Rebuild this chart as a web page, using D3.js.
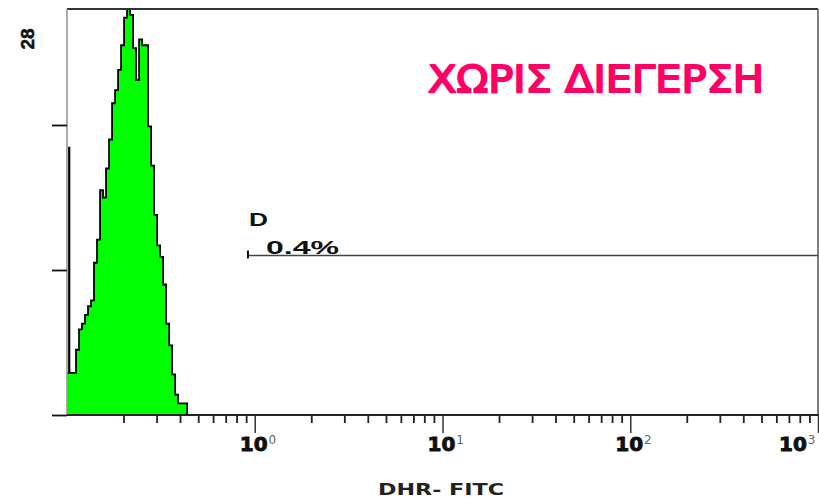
<!DOCTYPE html>
<html>
<head>
<meta charset="utf-8">
<script src="https://cdn.jsdelivr.net/npm/d3@7"></script>
<style>
  html, body { margin: 0; padding: 0; background: #fff; }
  svg { display: block; }
</style>
</head>
<body>
<svg id="chart" width="819" height="499"></svg>
<script>
// ---- data ----
const binEdges = [0.100, 0.1038, 0.1077, 0.1117, 0.1159, 0.1202, 0.1247, 0.1294, 0.1343, 0.1393,
  0.1445, 0.1500, 0.1556, 0.1614, 0.1675, 0.1738, 0.1803, 0.1871, 0.1941, 0.2014,
  0.2089, 0.2168, 0.2249, 0.2334, 0.2421, 0.2512, 0.2606, 0.2704, 0.2805, 0.2911,
  0.3020, 0.3133, 0.3251, 0.3373, 0.3500, 0.3631, 0.3767, 0.3908, 0.4055, 0.4207, 0.4365];
const counts = [2.9, 2.9, 2.9, 4.5, 5.9, 6.3, 6.9, 7.5, 7.9, 10.5,
  12.1, 15.5, 15.0, 17.0, 19.0, 21.5, 22.4, 23.8, 25.5, 27.4,
  28.0, 27.6, 25.3, 23.1, 25.9, 25.5, 25.5, 19.9, 17.2, 13.8,
  11.7, 10.9, 9.0, 6.3, 4.8, 2.8, 1.4, 0.8, 0.8, 0.8];
const firstChannel = [0.1015, 18.5];          // pile-up in the first channel
const xDomain = [0.1, 1000];
const yMax = 28;
const yTicks = [0, 10, 20];
const majorTicks = [1, 10, 100, 1000];
const majorExp = ["0", "1", "2", "3"];
const gateRange = [0.92, 1000];
const gateLevel = 11;
const gateName = "D";
const gatePct = "0.4%";
const xTitle = "DHR- FITC";
const title = "ΧΩΡΙΣ ΔΙΕΓΕΡΣΗ";

// ---- layout ----
const L = 67, R = 818, T = 9, B = 415;
const svg = d3.select("#chart");
const x = d3.scaleLog().domain(xDomain).range([L, R]);
const y = d3.scaleLinear().domain([0, yMax]).range([B, T]);

// first-channel spike
svg.append("line")
  .attr("x1", x(firstChannel[0]) + 1).attr("x2", x(firstChannel[0]) + 1)
  .attr("y1", y(firstChannel[1])).attr("y2", y(0))
  .attr("stroke", "#000").attr("stroke-width", 2.2);

// histogram
const pts = binEdges.map((e, i) => [e, i < counts.length ? counts[i] : counts[counts.length - 1]]);
const area = d3.area().curve(d3.curveStepAfter)
  .x(d => x(d[0])).y0(y(0)).y1(d => y(d[1]));
svg.append("path").datum(pts).attr("d", area).attr("fill", "#00ff00");
const outline = pts.concat([[binEdges[binEdges.length - 1], 0]]);
svg.append("path").datum(outline)
  .attr("d", d3.line().curve(d3.curveStepAfter).x(d => x(d[0])).y(d => y(d[1])))
  .attr("fill", "none").attr("stroke", "#000").attr("stroke-width", 1.8);

// frame
svg.append("line").attr("x1", L).attr("x2", R).attr("y1", T).attr("y2", T)
  .attr("stroke", "#333").attr("stroke-width", 2);
svg.append("line").attr("x1", L).attr("x2", L).attr("y1", T).attr("y2", B)
  .attr("stroke", "#999").attr("stroke-width", 1.6);
svg.append("line").attr("x1", R).attr("x2", R).attr("y1", T).attr("y2", B)
  .attr("stroke", "#555").attr("stroke-width", 1.5);
svg.append("line").attr("x1", L).attr("x2", R + 1).attr("y1", B).attr("y2", B)
  .attr("stroke", "#222").attr("stroke-width", 1.8);

// y axis ticks
const yAxis = svg.append("g").attr("transform", `translate(${L},0)`)
  .call(d3.axisLeft(y).tickValues(yTicks).tickSize(15).tickFormat(""));
yAxis.select(".domain").remove();
yAxis.selectAll(".tick line").attr("stroke", "#111").attr("stroke-width", 1.8);

svg.append("text")
  .attr("transform", `translate(34,39) rotate(-90)`)
  .attr("text-anchor", "middle")
  .attr("font-family", "'Liberation Sans Narrow', 'Liberation Sans', Arial, sans-serif")
  .attr("font-weight", "bold").attr("font-size", 19)
  .attr("fill", "#111").attr("stroke", "#111").attr("stroke-width", 0.5)
  .text(yMax);

// x axis ticks
const minor = x.ticks().filter(v => !majorTicks.includes(v) && v > xDomain[0]);
const gMinor = svg.append("g").attr("transform", `translate(0,${B + 1})`)
  .call(d3.axisBottom(x).tickValues(minor).tickSize(7).tickFormat(""));
gMinor.select(".domain").remove();
gMinor.selectAll(".tick line").attr("stroke", "#222").attr("stroke-width", 1.8);

const gMajor = svg.append("g").attr("transform", `translate(0,${B + 1})`)
  .call(d3.axisBottom(x).tickValues(majorTicks).tickSize(17).tickFormat(""));
gMajor.select(".domain").remove();
gMajor.selectAll(".tick line").attr("stroke", "#333").attr("stroke-width", 1.5);

const lbl = svg.append("g").selectAll("text").data(majorTicks).join("text")
  .attr("x", (d, i) => i === majorTicks.length - 1 ? x(d) - 39 : x(d) - 15)
  .attr("y", 451)
  .attr("font-family", "'DejaVu Sans', Verdana, sans-serif")
  .attr("font-weight", "bold").attr("font-size", 20).attr("fill", "#111");
lbl.append("tspan").attr("stroke", "#111").attr("stroke-width", 0.9).text("10");
lbl.append("tspan").attr("dx", 1).attr("dy", -7).attr("font-size", 12).attr("font-weight", "normal")
  .attr("fill", "#666").text((d, i) => majorExp[i]);

svg.append("text")
  .attr("x", 378).attr("y", 495)
  .attr("font-family", "'DejaVu Sans', Verdana, sans-serif")
  .attr("font-weight", "bold").attr("font-size", 15).attr("fill", "#222")
  .attr("textLength", 126).attr("lengthAdjust", "spacingAndGlyphs")
  .text(xTitle);

// gate marker
const gx = x(gateRange[0]), gy = y(gateLevel);
svg.append("line").attr("x1", gx).attr("x2", x(gateRange[1])).attr("y1", gy).attr("y2", gy)
  .attr("stroke", "#444").attr("stroke-width", 1.4);
svg.append("line").attr("x1", gx).attr("x2", gx).attr("y1", gy - 5).attr("y2", gy + 3)
  .attr("stroke", "#111").attr("stroke-width", 2);
svg.append("text").attr("x", gx + 1).attr("y", gy - 30)
  .attr("font-family", "'Liberation Sans', Arial, sans-serif")
  .attr("font-weight", "bold").attr("font-size", 19).attr("fill", "#111")
  .attr("textLength", 19).attr("lengthAdjust", "spacingAndGlyphs")
  .text(gateName);
svg.append("text").attr("x", gx + 18).attr("y", gy - 2)
  .attr("font-family", "'Liberation Sans', Arial, sans-serif")
  .attr("font-weight", "bold").attr("font-size", 18).attr("fill", "#111")
  .attr("textLength", 73).attr("lengthAdjust", "spacingAndGlyphs")
  .text(gatePct);

// title
svg.append("text").attr("x", 428).attr("y", 92)
  .attr("font-family", "'DejaVu Sans', 'Noto Sans', sans-serif")
  .attr("font-size", 38).attr("fill", "#ff0066")
  .attr("textLength", 336).attr("lengthAdjust", "spacingAndGlyphs")
  .attr("stroke", "#ff0066").attr("stroke-width", 2).attr("stroke-linejoin", "round")
  .text(title);
</script>
</body>
</html>
